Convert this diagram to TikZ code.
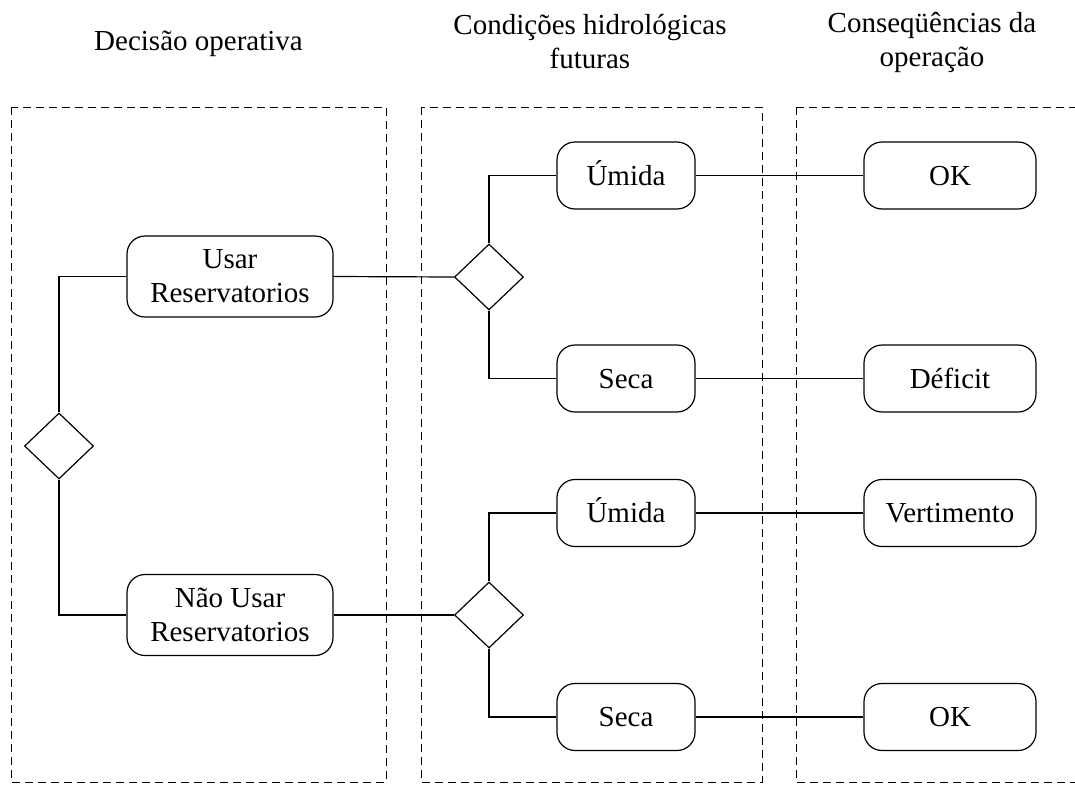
\documentclass[tikz,border=0pt]{standalone}
\usepackage{fontspec}
\setmainfont{Liberation Serif}
\usetikzlibrary{shapes.geometric}
\begin{document}
\begin{tikzpicture}[x=1pt,y=-1pt,
  every node/.style={font=\fontsize{29}{34}\selectfont},
  conn/.style={line width=1.2pt},
  frame/.style={line width=1pt, dash pattern=on 8pt off 5pt},
  rbox/.style={draw, line width=1.2pt, rounded corners=18pt, inner sep=0pt},
  wide/.style={rbox, align=center, minimum width=206pt, minimum height=81pt},
  mid/.style={rbox, text height=19pt, text depth=0pt, minimum width=138pt, minimum height=67pt},
  res/.style={rbox, text height=19pt, text depth=0pt, minimum width=172pt, minimum height=67pt},
  choice/.style={draw, diamond, line width=1.2pt, inner sep=0pt, minimum width=69pt, minimum height=66pt},
  title/.style={align=center}]
\useasboundingbox (0,0) rectangle (1075,787);
\clip (0,0) rectangle (1075,787);
% frames
\draw[frame] (11,107) rectangle (386,782);
\draw[frame] (421,107) rectangle (762,782);
\draw[frame] (796,107) rectangle (1100,782);
% titles
\node[title] (t1) at (198.5,44) {Decisão operativa};
\node[title] (t2) at (590,42) {Condições hidrológicas\\futuras};
\node[title] (t3) at (932,42) {Conseqüências da\\operação};
% nodes
\node[choice] (d0) at (59,446) {};
\node[wide] (usar) at (230,276.5) {Usar\\Reservatorios};
\node[wide] (nusar) at (230,615) {Não Usar\\Reservatorios};
\node[choice] (d1) at (489,277) {};
\node[choice] (d2) at (489,615) {};
\node[mid] (u1) at (626,175.5) {Úmida};
\node[mid] (s1) at (626,378.5) {Seca};
\node[mid] (u2) at (626,513) {Úmida};
\node[mid] (s2) at (626,717) {Seca};
\node[res] (ok1) at (950,175.5) {OK};
\node[res] (def) at (950,378.5) {Déficit};
\node[res] (vert) at (950,513) {Vertimento};
\node[res] (ok2) at (950,717) {OK};
% connectors
\draw[conn] (d0.north) |- (usar.west);
\draw[conn] (d0.south) |- (nusar.west);
\draw[conn] (usar.east) -- (d1.west);
\draw[conn] (nusar.east) -- (d2.west);
\draw[conn] (d1.north) |- (u1.west);
\draw[conn] (d1.south) |- (s1.west);
\draw[conn] (d2.north) |- (u2.west);
\draw[conn] (d2.south) |- (s2.west);
\draw[conn] (u1.east) -- (ok1.west);
\draw[conn] (s1.east) -- (def.west);
\draw[conn] (u2.east) -- (vert.west);
\draw[conn] (s2.east) -- (ok2.west);
\end{tikzpicture}
\end{document}
